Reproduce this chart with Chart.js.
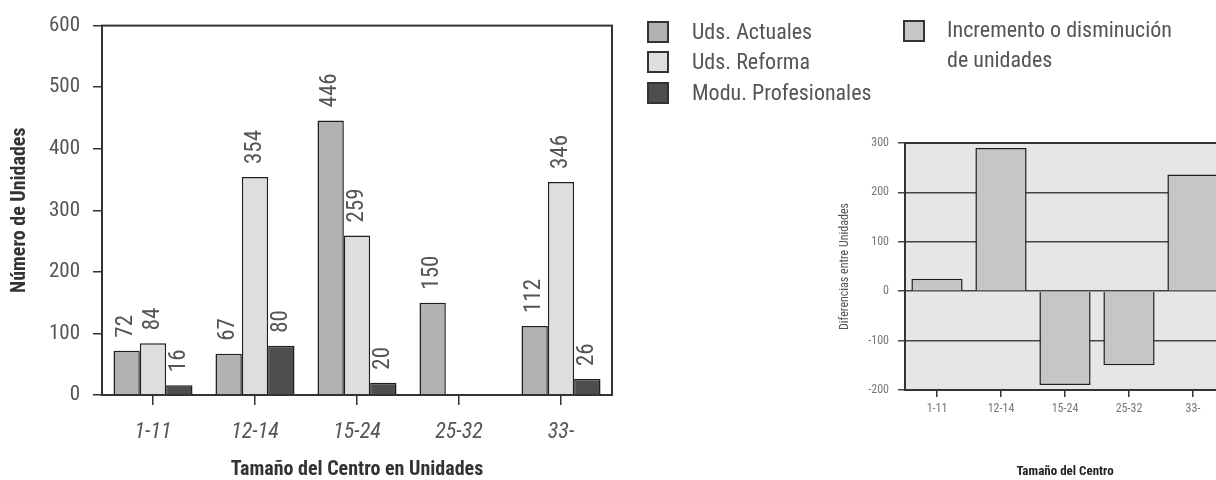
<!DOCTYPE html>
<html>
<head>
<meta charset="utf-8">
<script src="https://cdn.jsdelivr.net/npm/chart.js@4.4.1/dist/chart.umd.min.js"></script>
<style>
html,body{margin:0;padding:0;width:1216px;height:480px;overflow:hidden;background:#fff;}
#c1{position:absolute;left:0;top:0;}
#c2{position:absolute;left:830px;top:0;}
#legend{position:absolute;left:0;top:0;}
.lt{position:absolute;font-family:'Liberation Sans Narrow','Roboto Condensed','DejaVu Sans Condensed',sans-serif;font-size:22px;color:#555;line-height:30px;white-space:nowrap;}
.sw{position:absolute;width:18px;height:18px;border:2px solid #333;}
</style>
</head>
<body>
<canvas id="c1" width="640" height="480"></canvas>
<canvas id="c2" width="400" height="480"></canvas>
<div id="legend"></div>
<script>
// ---- data ----
const categories = ['1-11', '12-14', '15-24', '25-32', '33-'];
const seriesNames = ['Uds. Actuales', 'Uds. Reforma', 'Modu. Profesionales'];
const udsActuales = [72, 67, 446, 150, 112];
const udsReforma = [84, 354, 259, null, 346];
const moduProfesionales = [16, 80, 20, null, 26];
const diffName = ['Incremento o disminución', 'de unidades'];
const diferencias = [25, 290, -190, -150, 236];
const leftYTitle = 'Número de Unidades';
const leftXTitle = 'Tamaño del Centro en Unidades';
const rightYTitle = 'Diferencias entre Unidades';
const rightXTitle = 'Tamaño del Centro';

const NARROW = "'Liberation Sans Narrow','Roboto Condensed','DejaVu Sans Condensed',sans-serif";
const colors = ['#b2b2b2', '#dedede', '#4e4e4e'];
const diffColor = '#c6c6c6';

// ---- legend (HTML, built from series names) ----
const leg = document.getElementById('legend');
const rowsY = [32, 62, 93];
seriesNames.forEach((n, i) => {
  const sw = document.createElement('div');
  sw.className = 'sw';
  sw.style.left = '647px';
  sw.style.top = (rowsY[i] - 11) + 'px';
  sw.style.background = colors[i];
  leg.appendChild(sw);
  const t = document.createElement('div');
  t.className = 'lt';
  t.style.left = '692px';
  t.style.top = (rowsY[i] - 15) + 'px';
  t.textContent = n;
  leg.appendChild(t);
});
{
  const sw = document.createElement('div');
  sw.className = 'sw';
  sw.style.left = '903px';
  sw.style.top = '20px';
  sw.style.background = diffColor;
  leg.appendChild(sw);
  diffName.forEach((line, i) => {
    const t = document.createElement('div');
    t.className = 'lt';
    t.style.left = '947px';
    t.style.top = (15 + i * 30) + 'px';
    t.textContent = line;
    leg.appendChild(t);
  });
}

// ---- plugins ----
const framePlugin = {
  id: 'frame',
  afterDraw(chart, args, opts) {
    const {ctx, chartArea: a} = chart;
    ctx.save();
    ctx.strokeStyle = opts.color || '#333';
    ctx.lineWidth = opts.width || 2;
    ctx.strokeRect(a.left, a.top, a.right - a.left, a.bottom - a.top);
    ctx.restore();
  }
};
const bgPlugin = {
  id: 'bg',
  beforeDraw(chart, args, opts) {
    const {ctx, chartArea: a} = chart;
    if (!opts.color) return;
    ctx.save();
    ctx.fillStyle = opts.color;
    ctx.fillRect(a.left, a.top, a.right - a.left, a.bottom - a.top);
    ctx.restore();
  }
};
const valueLabels = {
  id: 'valueLabels',
  afterDatasetsDraw(chart, args, opts) {
    if (!opts.show) return;
    const ctx = chart.ctx;
    chart.data.datasets.forEach((ds, i) => {
      const meta = chart.getDatasetMeta(i);
      meta.data.forEach((bar, j) => {
        const v = ds.data[j];
        if (v === null || v === undefined) return;
        ctx.save();
        ctx.translate(bar.x, bar.y - 13);
        ctx.rotate(-Math.PI / 2);
        ctx.textAlign = 'left';
        ctx.textBaseline = 'middle';
        ctx.font = '23px ' + NARROW;
        ctx.fillStyle = '#555';
        ctx.fillText(String(v), 0, 0);
        ctx.restore();
      });
    });
  }
};

// ---- left chart ----
new Chart(document.getElementById('c1'), {
  type: 'bar',
  data: {
    labels: categories,
    datasets: [
      {label: seriesNames[0], data: udsActuales, backgroundColor: colors[0], borderColor: '#1e1e1e', borderWidth: 1.5},
      {label: seriesNames[1], data: udsReforma, backgroundColor: colors[1], borderColor: '#1e1e1e', borderWidth: 1.5},
      {label: seriesNames[2], data: moduProfesionales, backgroundColor: colors[2], borderColor: '#1e1e1e', borderWidth: 1.5}
    ]
  },
  options: {
    responsive: false,
    animation: false,
    layout: {padding: {top: 23, right: 28, bottom: 0, left: 0}},
    datasets: {bar: {categoryPercentage: 0.775, barPercentage: 1}},
    plugins: {
      legend: {display: false},
      tooltip: {enabled: false},
      frame: {color: '#333', width: 2},
      valueLabels: {show: true}
    },
    scales: {
      x: {
        grid: {offset: false, drawOnChartArea: false, drawTicks: true, tickLength: 10, color: '#333', lineWidth: 1.5},
        border: {color: '#333', width: 2},
        ticks: {font: {family: NARROW, size: 22, style: 'italic'}, color: '#555', padding: 14},
        title: {display: true, text: leftXTitle, font: {family: NARROW, size: 20, weight: 'bold', lineHeight: 1}, color: '#333', padding: {top: 0, bottom: 0}},
        afterFit(s) { s.height = 85; }
      },
      y: {
        min: 0, max: 600,
        ticks: {stepSize: 100, font: {family: NARROW, size: 21}, color: '#555', padding: 13},
        grid: {drawOnChartArea: false, tickLength: 9, color: '#333', lineWidth: 1.5},
        border: {color: '#333', width: 2},
        title: {display: true, text: leftYTitle, font: {family: NARROW, size: 20, weight: 'bold', lineHeight: 1}, color: '#333', padding: {top: 10, bottom: 0}},
        afterFit(s) { s.width = 102; }
      }
    }
  },
  plugins: [framePlugin, valueLabels]
});

// ---- right chart ----
new Chart(document.getElementById('c2'), {
  type: 'bar',
  data: {
    labels: categories,
    datasets: [
      {label: diffName.join(' '), data: diferencias, backgroundColor: diffColor, borderColor: '#1e1e1e', borderWidth: 1.5}
    ]
  },
  options: {
    responsive: false,
    animation: false,
    layout: {padding: {top: 143, right: 5, bottom: 0, left: 0}},
    datasets: {bar: {categoryPercentage: 0.8, barPercentage: 1}},
    plugins: {
      legend: {display: false},
      tooltip: {enabled: false},
      frame: {color: '#333', width: 2},
      bg: {color: '#e6e6e6'}
    },
    scales: {
      x: {
        grid: {offset: false, drawOnChartArea: false, tickLength: 7, color: '#333', lineWidth: 1.5},
        border: {color: '#333', width: 2},
        ticks: {font: {family: NARROW, size: 12}, color: '#777', padding: 5},
        title: {display: true, text: rightXTitle, font: {family: NARROW, size: 13, weight: 'bold', lineHeight: 1}, color: '#222', padding: {top: 0, bottom: 2}},
        afterFit(s) { s.height = 90; }
      },
      y: {
        min: -200, max: 300,
        ticks: {stepSize: 100, font: {family: NARROW, size: 12}, color: '#777', padding: 9},
        grid: {color: '#444', lineWidth: 1.5, tickLength: 7},
        border: {color: '#333', width: 2},
        title: {display: true, text: rightYTitle, font: {family: NARROW, size: 12, lineHeight: 1}, color: '#555', padding: {top: 9, bottom: 0}},
        afterFit(s) { s.width = 75; }
      }
    }
  },
  plugins: [bgPlugin, framePlugin]
});
</script>
</body>
</html>
